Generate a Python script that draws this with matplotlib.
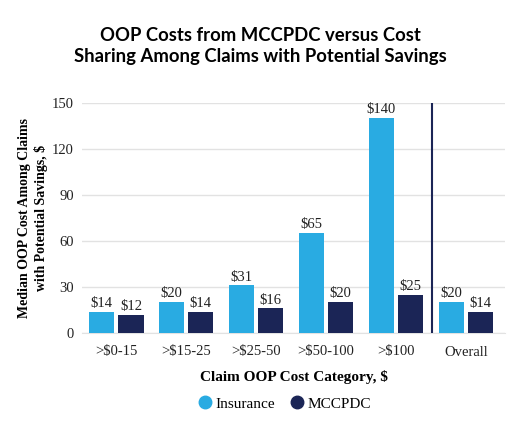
import numpy as np
import matplotlib.pyplot as plt

categories = ['>$0-15', '>$15-25', '>$25-50', '>$50-100', '>$100', 'Overall']
insurance = [14, 20, 31, 65, 140, 20]
mccpdc = [12, 14, 16, 20, 25, 14]
yticks = [0, 30, 60, 90, 120, 150]

c_ins = '#29abe2'
c_mcc = '#1b2556'
serif = 'Liberation Serif'

fig = plt.figure(figsize=(5.2, 4.38), dpi=100)
ax = fig.add_axes([82/520, 1-333/438, (505-82)/520, (333-103)/438])

x = np.arange(len(categories))
w = 0.36
gap = 0.03
b1 = ax.bar(x - w/2 - gap, insurance, w, color=c_ins, zorder=3, label='Insurance')
b2 = ax.bar(x + w/2 + gap, mccpdc, w, color=c_mcc, zorder=3, label='MCCPDC')

for bars, vals in [(b1, insurance), (b2, mccpdc)]:
    for b, v in zip(bars, vals):
        ax.text(b.get_x() + b.get_width()/2, v + 1.2, '$%d' % v, ha='center', va='bottom',
                fontsize=10.5, family=serif, color='#222222')

ax.axvline(4.51, color=c_mcc, lw=1.5, zorder=4)

ax.set_xlim(-0.49, 5.56)
ax.set_ylim(0, 150)
ax.set_yticks(yticks)
ax.set_xticks(x)
ax.set_xticklabels(categories)
ax.yaxis.grid(True, color='#e2e2e2', lw=1, zorder=0)
ax.tick_params(axis='x', length=0, labelsize=10.5, colors='#222222', pad=9)
ax.tick_params(axis='y', length=0, labelsize=10.5, colors='#222222', pad=6)
for lab in ax.get_xticklabels() + ax.get_yticklabels():
    lab.set_family(serif)
for s in ['top', 'right', 'left']:
    ax.spines[s].set_visible(False)
ax.spines['bottom'].set_color('#e2e2e2')

ax.set_ylabel('Median OOP Cost Among Claims\nwith Potential Savings, $', family=serif,
              fontweight='bold', fontsize=10, linespacing=1.25)
ax.yaxis.set_label_coords(-0.08, 0.5)
ax.set_xlabel('Claim OOP Cost Category, $', family=serif, fontweight='bold', fontsize=11,
              labelpad=8)

fig.text(0.5, 1-46/438, 'OOP Costs from MCCPDC versus Cost\nSharing Among Claims with Potential Savings',
         ha='center', va='center', family='Lato', fontweight='bold', fontsize=13.3, linespacing=1.3)

h1 = plt.Line2D([], [], marker='o', ls='', color=c_ins, markersize=9)
h2 = plt.Line2D([], [], marker='o', ls='', color=c_mcc, markersize=9)
fig.legend([h1, h2], ['Insurance', 'MCCPDC'], loc='center', bbox_to_anchor=(285/520, 1-404/438),
           ncol=2, frameon=False, prop={'family': serif, 'size': 11}, handletextpad=0.3,
           handlelength=0.8, columnspacing=1.0)

fig.savefig('out.png', dpi=100)
